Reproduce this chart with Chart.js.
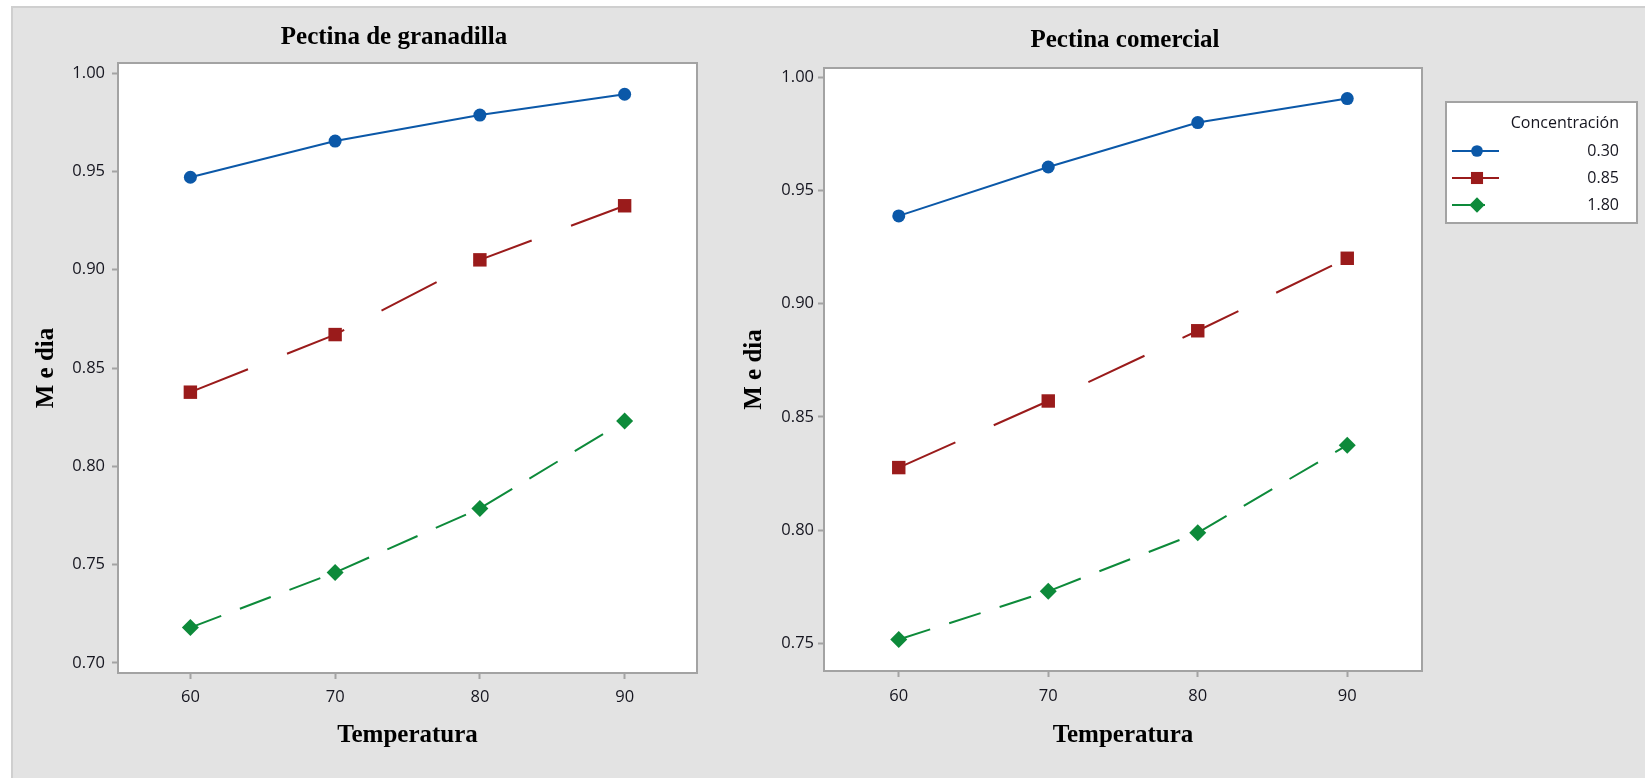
<!DOCTYPE html>
<html><head><meta charset="utf-8">
<script src="https://cdn.jsdelivr.net/npm/chart.js@4.4.1/dist/chart.umd.min.js"></script>
<style>
html,body{margin:0;padding:0;background:#fff;width:1645px;height:778px;overflow:hidden;}
#panel{position:absolute;left:11px;top:6px;width:1634px;height:772px;background:#e3e3e3;border-top:2px solid #cfcfcf;border-left:2px solid #cfcfcf;box-sizing:border-box;}
canvas{position:absolute;left:0;top:0;}
</style></head><body>
<div id="panel"></div>
<canvas id="c1" width="1645" height="778"></canvas>
<canvas id="c2" width="1645" height="778"></canvas>
<script>
// ---- data ----
const temperatures = [60, 70, 80, 90];
const concentrations = ['0.30', '0.85', '1.80'];
const granadilla_030 = [0.947, 0.9654, 0.9786, 0.9892];
const granadilla_085 = [0.8377, 0.867, 0.905, 0.9325];
const granadilla_180 = [0.718, 0.746, 0.7786, 0.823];
const comercial_030 = [0.9387, 0.9603, 0.9799, 0.9905];
const comercial_085 = [0.8276, 0.857, 0.888, 0.920];
const comercial_180 = [0.7517, 0.773, 0.7988, 0.8375];
const xTicks = [60, 70, 80, 90];
const yTicksGranadilla = [0.70, 0.75, 0.80, 0.85, 0.90, 0.95, 1.00];
const yTicksComercial = [0.75, 0.80, 0.85, 0.90, 0.95, 1.00];
const panelTitles = ['Pectina de granadilla', 'Pectina comercial'];
const xAxisTitle = 'Temperatura';
const yAxisTitle = 'M e dia';
const legendTitle = 'Concentración';

// ---- styles ----
const seriesStyles = [
  {color: '#0b58a8', dash: [], pointStyle: 'circle', radius: 6.5},
  {color: '#9a1b1b', dash: [62, 42], pointStyle: 'rect', radius: 9.5},
  {color: '#0d8a3a', dash: [33, 20], pointStyle: 'rectRot', radius: 8.5}
];
const TEXT = '#15151f';
const FRAME = '#a3a3a3';
Chart.defaults.font.family = '"Open Sans", "Noto Sans", sans-serif';

function drawMarker(ctx, style, r, x, y) {
  ctx.beginPath();
  if (style === 'circle') {
    ctx.arc(x, y, r, 0, Math.PI * 2);
  } else if (style === 'rect') {
    const s = r * Math.SQRT1_2;
    ctx.rect(x - s, y - s, 2 * s, 2 * s);
  } else {
    ctx.moveTo(x, y - r); ctx.lineTo(x + r, y); ctx.lineTo(x, y + r); ctx.lineTo(x - r, y); ctx.closePath();
  }
  ctx.fill();
}

const framePlugin = {
  id: 'framePlugin',
  beforeDraw(chart) {
    const {ctx, chartArea: a} = chart;
    ctx.save();
    ctx.fillStyle = '#fff';
    ctx.fillRect(a.left, a.top, a.right - a.left, a.bottom - a.top);
    ctx.strokeStyle = FRAME; ctx.lineWidth = 2;
    ctx.strokeRect(a.left, a.top, a.right - a.left, a.bottom - a.top);
    ctx.restore();
  }
};
const panelTitlePlugin = {
  id: 'panelTitle',
  afterDraw(chart, args, o) {
    const ctx = chart.ctx;
    ctx.save();
    ctx.font = 'bold ' + o.size + 'px "Liberation Serif", serif';
    ctx.fillStyle = '#000'; ctx.textAlign = 'center'; ctx.textBaseline = 'alphabetic';
    ctx.fillText(o.text, o.x, o.y);
    ctx.restore();
  }
};
const sideLegendPlugin = {
  id: 'sideLegend',
  afterDraw(chart, args, o) {
    if (!o.display) return;
    const ctx = chart.ctx;
    ctx.save();
    ctx.fillStyle = '#fff'; ctx.fillRect(o.x, o.y, o.w, o.h);
    ctx.strokeStyle = FRAME; ctx.lineWidth = 2; ctx.strokeRect(o.x, o.y, o.w, o.h);
    ctx.font = '16px "Open Sans", sans-serif';
    ctx.fillStyle = TEXT; ctx.textAlign = 'right'; ctx.textBaseline = 'middle';
    ctx.fillText(o.title, o.textRight, o.titleY);
    chart.data.datasets.forEach((ds, i) => {
      const y = o.firstRowY + i * o.rowGap;
      ctx.save();
      ctx.strokeStyle = ds.borderColor; ctx.lineWidth = ds.borderWidth;
      ctx.setLineDash(ds.borderDash || []);
      ctx.beginPath(); ctx.moveTo(o.lineX0, y); ctx.lineTo(o.lineX1, y); ctx.stroke();
      ctx.restore();
      ctx.fillStyle = ds.pointBackgroundColor;
      drawMarker(ctx, ds.pointStyle, ds.pointRadius * 0.9, o.markerX, y);
      ctx.fillStyle = TEXT;
      ctx.fillText(ds.label, o.textRight, y);
    });
    ctx.restore();
  }
};

function makeChart(id, series, yTicks, yMin, yMax, g) {
  const datasets = series.map((arr, i) => ({
    label: concentrations[i],
    data: temperatures.map((t, j) => ({x: t, y: arr[j]})),
    borderColor: seriesStyles[i].color,
    backgroundColor: seriesStyles[i].color,
    pointBackgroundColor: seriesStyles[i].color,
    pointBorderColor: seriesStyles[i].color,
    pointBorderWidth: 0,
    borderWidth: 2,
    borderDash: seriesStyles[i].dash,
    pointStyle: seriesStyles[i].pointStyle,
    pointRadius: seriesStyles[i].radius,
    tension: 0,
    clip: false
  }));
  return new Chart(document.getElementById(id), {
    type: 'line',
    data: {datasets},
    plugins: [framePlugin, panelTitlePlugin, sideLegendPlugin],
    options: {
      responsive: false, animation: false, devicePixelRatio: 1, events: [],
      layout: {padding: g.padding},
      plugins: {
        legend: {display: false}, tooltip: {enabled: false},
        panelTitle: g.title,
        sideLegend: g.legend
      },
      scales: {
        x: {
          type: 'linear', min: 55, max: 95, offset: false,
          afterBuildTicks: s => { s.ticks = xTicks.map(v => ({value: v})); },
          afterFit: s => { s.height = 90; },
          ticks: {color: TEXT, font: {size: 16.5}, padding: g.xTickPad, callback: v => String(v), maxRotation: 0, autoSkip: false},
          grid: {display: true, drawOnChartArea: false, drawTicks: true, tickLength: 6, tickWidth: 2, tickColor: FRAME},
          border: {display: false},
          title: {display: true, text: xAxisTitle, color: '#000', font: {family: '"Liberation Serif", serif', size: 25, weight: 'bold'}, padding: {top: 0, bottom: g.xTitlePad}}
        },
        y: {
          type: 'linear', min: yMin, max: yMax,
          afterBuildTicks: s => { s.ticks = yTicks.map(v => ({value: v})); },
          afterFit: s => { s.width = 100; },
          ticks: {color: TEXT, font: {size: 16.5}, padding: g.yTickPad, callback: v => Number(v).toFixed(2), autoSkip: false},
          grid: {display: true, drawOnChartArea: false, drawTicks: true, tickLength: 6, tickWidth: 2, tickColor: FRAME},
          border: {display: false},
          title: {display: true, text: yAxisTitle, color: '#000', font: {family: '"Liberation Serif", serif', size: 25, weight: 'bold'}, padding: {top: g.yTitlePad, bottom: 0}}
        }
      }
    }
  });
}

makeChart('c1', [granadilla_030, granadilla_085, granadilla_180], yTicksGranadilla, 0.6949, 1.0051, {
  padding: {left: 18, right: 948, top: 63, bottom: 15},
  xTickPad: 8, yTickPad: 7, xTitlePad: 12, yTitlePad: 14,
  title: {text: panelTitles[0], x: 394, y: 44, size: 25},
  legend: {display: false}
});
makeChart('c2', [comercial_030, comercial_085, comercial_180], yTicksComercial, 0.7378, 1.004, {
  padding: {left: 724, right: 223, top: 68, bottom: 17},
  xTickPad: 9, yTickPad: 4, xTitlePad: 10, yTitlePad: 16,
  title: {text: panelTitles[1], x: 1125, y: 47, size: 25},
  legend: {display: true, x: 1446, y: 102, w: 191, h: 121, title: legendTitle, textRight: 1619, titleY: 123,
           firstRowY: 151, rowGap: 27, lineX0: 1452, lineX1: 1499, markerX: 1477}
});
</script>
</body></html>
